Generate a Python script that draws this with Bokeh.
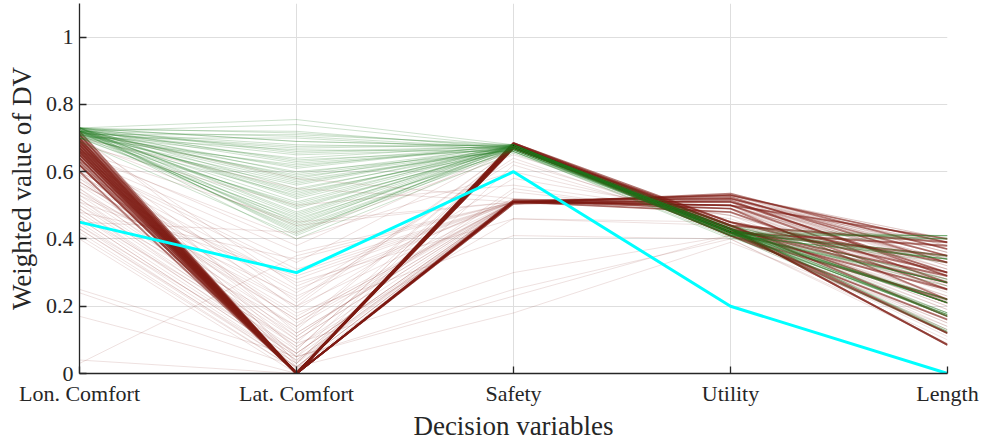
from bokeh.plotting import figure
from bokeh.models import Range1d, FixedTicker
from bokeh.embed import file_html
from bokeh.resources import INLINE

# ---------------- data ----------------
dv_labels = ["Lon. Comfort", "Lat. Comfort", "Safety", "Utility", "Length"]
y_ticks = [0, 0.2, 0.4, 0.6, 0.8, 1.0]
y_tick_labels = ["0", "0.2", "0.4", "0.6", "0.8", "1"]

# highlighted solution (cyan)
ref_line = [0.45, 0.30, 0.60, 0.20, 0.0]

# green solutions
green_lon = [0.73, 0.72, 0.725, 0.71, 0.70, 0.73, 0.72, 0.715, 0.705, 0.73,
             0.72, 0.71, 0.725, 0.73, 0.70, 0.72, 0.715, 0.73, 0.71, 0.725,
             0.72, 0.70, 0.73, 0.715, 0.72, 0.705, 0.73, 0.72, 0.71, 0.725,
             0.73, 0.72, 0.715, 0.70, 0.73, 0.72, 0.71, 0.725, 0.69, 0.72,
             0.73, 0.715, 0.725, 0.72, 0.71, 0.73, 0.72, 0.70, 0.725, 0.73,
             0.72, 0.73, 0.71, 0.725, 0.72, 0.70, 0.73, 0.715, 0.72, 0.73]
green_lat = [0.755, 0.74, 0.72, 0.71, 0.70, 0.69, 0.68, 0.67, 0.665, 0.66,
             0.65, 0.64, 0.635, 0.63, 0.62, 0.61, 0.60, 0.595, 0.59, 0.58,
             0.57, 0.56, 0.55, 0.545, 0.54, 0.53, 0.52, 0.51, 0.50, 0.49,
             0.48, 0.47, 0.46, 0.455, 0.45, 0.44, 0.43, 0.42, 0.41, 0.40,
             0.715, 0.675, 0.625, 0.585, 0.565, 0.525, 0.495, 0.465, 0.435, 0.415,
             0.705, 0.655, 0.615, 0.575, 0.535, 0.505, 0.475, 0.445, 0.425, 0.69]
green_saf = [0.68, 0.675, 0.67, 0.68, 0.665, 0.675, 0.67, 0.68, 0.66, 0.675,
             0.67, 0.68, 0.665, 0.675, 0.67, 0.68, 0.66, 0.675, 0.67, 0.68,
             0.665, 0.675, 0.67, 0.68, 0.66, 0.675, 0.67, 0.68, 0.665, 0.675,
             0.67, 0.68, 0.66, 0.675, 0.67, 0.68, 0.665, 0.675, 0.67, 0.655,
             0.675, 0.68, 0.67, 0.665, 0.675, 0.68, 0.67, 0.675, 0.665, 0.68,
             0.67, 0.675, 0.68, 0.665, 0.67, 0.675, 0.68, 0.67, 0.66, 0.675]
green_util = [0.42, 0.43, 0.41, 0.425, 0.415, 0.44, 0.42, 0.43, 0.405, 0.42,
              0.435, 0.41, 0.425, 0.42, 0.43, 0.415, 0.40, 0.42, 0.43, 0.425,
              0.41, 0.42, 0.435, 0.42, 0.415, 0.43, 0.42, 0.41, 0.425, 0.44,
              0.42, 0.415, 0.43, 0.42, 0.41, 0.425, 0.42, 0.43, 0.415, 0.42,
              0.425, 0.42, 0.43, 0.415, 0.42, 0.425, 0.435, 0.42, 0.41, 0.425,
              0.42, 0.43, 0.415, 0.42, 0.425, 0.41, 0.42, 0.43, 0.42, 0.415]
green_len = [0.41, 0.40, 0.34, 0.35, 0.27, 0.28, 0.21, 0.22, 0.175, 0.17,
             0.125, 0.41, 0.34, 0.27, 0.21, 0.175, 0.40, 0.345, 0.275, 0.215,
             0.18, 0.12, 0.405, 0.34, 0.27, 0.21, 0.17, 0.41, 0.35, 0.28,
             0.22, 0.175, 0.13, 0.40, 0.34, 0.27, 0.21, 0.17, 0.33, 0.26,
             0.21, 0.175, 0.125, 0.22, 0.17, 0.21, 0.18, 0.27, 0.34, 0.40,
             0.21, 0.17, 0.27, 0.22, 0.175, 0.125, 0.34, 0.21, 0.18, 0.41]

# dense red bundle through Safety ~0.675
redA_lon = [0.72, 0.71, 0.70, 0.695, 0.69, 0.685, 0.68, 0.675, 0.67, 0.665,
            0.66, 0.655, 0.65, 0.64, 0.63, 0.62]
redA_lat = [0.0, 0.0, 0.0, 0.0, 0.0, 0.0, 0.0, 0.0, 0.0, 0.0,
            0.0, 0.0, 0.0, 0.0, 0.0, 0.0]
redA_saf = [0.685, 0.68, 0.675, 0.68, 0.67, 0.685, 0.675, 0.68, 0.67, 0.675,
            0.685, 0.68, 0.67, 0.675, 0.68, 0.675]
redA_util = [0.43, 0.42, 0.44, 0.41, 0.43, 0.45, 0.42, 0.44, 0.43, 0.41,
             0.44, 0.42, 0.43, 0.45, 0.42, 0.43]
redA_len = [0.085, 0.12, 0.17, 0.22, 0.27, 0.30, 0.35, 0.39, 0.085, 0.16,
            0.21, 0.25, 0.29, 0.33, 0.38, 0.12]

# red bundle through Safety ~0.51
redB_lon = [0.71, 0.70, 0.69, 0.68, 0.67, 0.66, 0.65, 0.64, 0.62, 0.60]
redB_lat = [0.0, 0.0, 0.0, 0.0, 0.0, 0.0, 0.0, 0.0, 0.0, 0.0]
redB_saf = [0.51, 0.515, 0.51, 0.505, 0.51, 0.515, 0.51, 0.51, 0.505, 0.51]
redB_util = [0.53, 0.52, 0.51, 0.535, 0.50, 0.49, 0.525, 0.48, 0.515, 0.50]
redB_len = [0.39, 0.35, 0.30, 0.37, 0.27, 0.22, 0.33, 0.25, 0.29, 0.40]

# faint scattered red solutions
redF_lon = [0.72, 0.70, 0.68, 0.66, 0.65, 0.64, 0.63, 0.62, 0.61, 0.60,
            0.59, 0.58, 0.57, 0.56, 0.55, 0.54, 0.53, 0.52, 0.51, 0.50,
            0.49, 0.48, 0.47, 0.46, 0.45, 0.44, 0.43, 0.42, 0.41, 0.40,
            0.70, 0.67, 0.64, 0.61, 0.58, 0.55, 0.52, 0.49, 0.46, 0.43,
            0.25, 0.24, 0.17, 0.04, 0.03, 0.69, 0.66, 0.63, 0.60, 0.57,
            0.71, 0.68, 0.65, 0.62, 0.59, 0.56, 0.53, 0.50, 0.47, 0.44,
            0.72, 0.69, 0.66, 0.63, 0.60, 0.57, 0.54, 0.51, 0.48, 0.45]
redF_lat = [0.58, 0.55, 0.50, 0.45, 0.40, 0.36, 0.33, 0.30, 0.27, 0.25,
            0.22, 0.20, 0.18, 0.16, 0.14, 0.12, 0.11, 0.10, 0.09, 0.08,
            0.07, 0.06, 0.05, 0.04, 0.03, 0.02, 0.02, 0.01, 0.01, 0.0,
            0.26, 0.19, 0.15, 0.13, 0.10, 0.08, 0.06, 0.05, 0.04, 0.03,
            0.05, 0.02, 0.0, 0.0, 0.35, 0.44, 0.38, 0.31, 0.24, 0.17,
            0.21, 0.12, 0.07, 0.035, 0.015, 0.28, 0.23, 0.14, 0.09, 0.06,
            0.03, 0.02, 0.01, 0.05, 0.11, 0.16, 0.20, 0.29, 0.34, 0.42]
redF_saf = [0.52, 0.51, 0.56, 0.51, 0.60, 0.51, 0.67, 0.51, 0.46, 0.51,
            0.64, 0.51, 0.41, 0.51, 0.67, 0.51, 0.55, 0.51, 0.30, 0.51,
            0.67, 0.51, 0.25, 0.51, 0.62, 0.51, 0.18, 0.51, 0.67, 0.51,
            0.51, 0.58, 0.51, 0.67, 0.51, 0.46, 0.51, 0.67, 0.51, 0.51,
            0.23, 0.51, 0.51, 0.51, 0.51, 0.51, 0.67, 0.51, 0.63, 0.51,
            0.67, 0.51, 0.67, 0.51, 0.67, 0.51, 0.52, 0.51, 0.67, 0.51,
            0.67, 0.51, 0.67, 0.51, 0.54, 0.51, 0.67, 0.51, 0.51, 0.65]
redF_util = [0.50, 0.52, 0.47, 0.53, 0.45, 0.51, 0.43, 0.49, 0.44, 0.52,
             0.42, 0.50, 0.40, 0.53, 0.44, 0.48, 0.46, 0.51, 0.41, 0.50,
             0.42, 0.53, 0.40, 0.49, 0.43, 0.52, 0.39, 0.50, 0.44, 0.51,
             0.53, 0.47, 0.50, 0.43, 0.52, 0.45, 0.49, 0.42, 0.51, 0.48,
             0.41, 0.53, 0.50, 0.52, 0.49, 0.51, 0.42, 0.50, 0.44, 0.53,
             0.43, 0.51, 0.42, 0.52, 0.44, 0.50, 0.49, 0.53, 0.41, 0.51,
             0.44, 0.52, 0.43, 0.50, 0.47, 0.53, 0.42, 0.49, 0.51, 0.45]
redF_len = [0.40, 0.36, 0.30, 0.39, 0.25, 0.34, 0.18, 0.31, 0.22, 0.38,
            0.13, 0.28, 0.10, 0.35, 0.20, 0.27, 0.24, 0.33, 0.15, 0.29,
            0.12, 0.37, 0.09, 0.26, 0.19, 0.32, 0.14, 0.30, 0.21, 0.35,
            0.40, 0.28, 0.33, 0.17, 0.37, 0.23, 0.29, 0.11, 0.34, 0.26,
            0.16, 0.38, 0.31, 0.36, 0.27, 0.32, 0.15, 0.30, 0.20, 0.39,
            0.23, 0.35, 0.17, 0.31, 0.28, 0.39, 0.25, 0.36, 0.13, 0.33,
            0.19, 0.37, 0.26, 0.30, 0.22, 0.40, 0.14, 0.34, 0.29, 0.21]

# ---------------- plot ----------------
xpos = [i + 1 for i in range(len(dv_labels))]


def rows(*cols):
    return [list(r) for r in zip(*cols)]


FONT = "Liberation Serif"
TXT = "#262626"
RED = "#7d1a12"
GREEN = "#1e7d1e"

p = figure(width=981, height=443, output_backend="svg", toolbar_location=None,
           x_range=Range1d(1, 5), y_range=Range1d(0, 1.1),
           min_border_left=79, min_border_right=34, min_border_top=3,
           min_border_bottom=65)
p.outline_line_color = None
p.background_fill_color = "white"
p.border_fill_color = "white"

red_f = rows(redF_lon, redF_lat, redF_saf, redF_util, redF_len)
p.multi_line(xs=[xpos] * len(red_f), ys=red_f, line_color=RED,
             line_alpha=0.13, line_width=1)

red_b = rows(redB_lon, redB_lat, redB_saf, redB_util, redB_len)
p.multi_line(xs=[xpos] * len(red_b), ys=red_b, line_color=RED,
             line_alpha=0.55, line_width=1.8)

red_a = rows(redA_lon, redA_lat, redA_saf, redA_util, redA_len)
p.multi_line(xs=[xpos] * len(red_a), ys=red_a, line_color=RED,
             line_alpha=0.6, line_width=2)

green = rows(green_lon, green_lat, green_saf, green_util, green_len)
p.multi_line(xs=[xpos] * len(green), ys=green, line_color=GREEN,
             line_alpha=0.22, line_width=1)

p.line(xpos, ref_line, line_color="#00ffff", line_width=3)

# axes
p.xaxis.ticker = FixedTicker(ticks=xpos)
p.xaxis.major_label_overrides = {x: lab for x, lab in zip(xpos, dv_labels)}
p.yaxis.ticker = FixedTicker(ticks=y_ticks)
p.yaxis.major_label_overrides = {t: lab for t, lab in zip(y_ticks, y_tick_labels)}

for ax in (p.xaxis[0], p.yaxis[0]):
    ax.major_label_text_font = FONT
    ax.major_label_text_font_size = "22px"
    ax.major_label_text_color = TXT
    ax.axis_label_text_font = FONT
    ax.axis_label_text_font_size = "27px"
    ax.axis_label_text_font_style = "normal"
    ax.axis_label_text_color = TXT
    ax.axis_line_color = TXT
    ax.axis_line_width = 1.3
    ax.major_tick_line_color = TXT
    ax.major_tick_line_width = 1.3
    ax.major_tick_in = 7
    ax.major_tick_out = 0
    ax.minor_tick_line_color = None

p.xaxis.axis_label = "Decision variables"
p.yaxis.axis_label = "Weighted value of DV"
p.xaxis.major_label_standoff = 7
p.yaxis.major_label_standoff = 6
p.xaxis.axis_label_standoff = 2
p.yaxis.axis_label_standoff = 6

p.xgrid.ticker = FixedTicker(ticks=xpos)
p.ygrid.ticker = FixedTicker(ticks=y_ticks)
for g in (p.xgrid[0], p.ygrid[0]):
    g.grid_line_color = "#dedede"
    g.grid_line_width = 1

open("out.html", "w").write(file_html(p, INLINE))
